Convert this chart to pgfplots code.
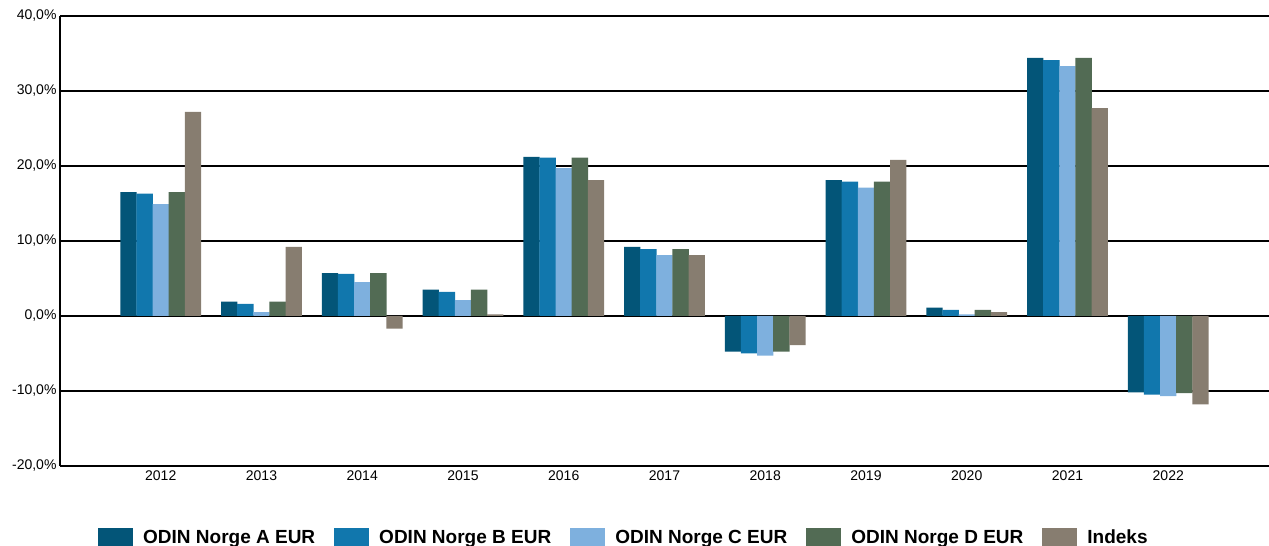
\documentclass[border=0pt]{standalone}
\usepackage{pgfplots}
\pgfplotsset{compat=1.18}
\usepackage{fontspec}
\setmainfont{Liberation Sans}
\definecolor{cA}{RGB}{3,85,120}
\definecolor{cB}{RGB}{17,119,173}
\definecolor{cC}{RGB}{126,176,222}
\definecolor{cD}{RGB}{82,107,84}
\definecolor{cI}{RGB}{135,125,112}
\begin{document}
\begin{tikzpicture}
\path[use as bounding box] (0,0) rectangle (1269pt,546pt);
\begin{axis}[
  at={(60pt,80pt)}, anchor=south west,
  scale only axis, width=1209pt, height=450pt,
  xmin=-1, xmax=11, ymin=-20, ymax=40,
  xtick={0,...,10},
  xticklabels={2012,2013,2014,2015,2016,2017,2018,2019,2020,2021,2022},
  ytick={-20,-10,0,10,20,30,40},
  yticklabels={{-20,0\%},{-10,0\%},{0,0\%},{10,0\%},{20,0\%},{30,0\%},{40,0\%}},
  major tick length=0pt,
  axis lines*=left,
  axis line style={-},
  x axis line style={draw=none},
  y axis line style={line width=1.3pt, black},
  ymajorgrids,
  grid style={line width=1.3pt, black},
  ticklabel style={font=\fontsize{14pt}{16pt}\selectfont},
  xticklabel style={yshift=-1pt},
  ybar, bar width=0.163,
  legend columns=-1,
  legend style={draw=none, fill=none, inner sep=0pt, at={(0.0314,-0.158)}, anchor=west,
    font=\fontsize{19pt}{22pt}\selectfont\bfseries,
    nodes={inner sep=0pt, anchor=base west},
    /tikz/every odd column/.append style={column sep=10pt},
    /tikz/every even column/.append style={column sep=19pt}},
  legend image code/.code={\fill[#1] (0pt,-3pt) rectangle (35pt,15pt);},
]
\addplot[fill=cA, draw=none, bar shift=-0.32] coordinates {(0,16.5)(1,1.9)(2,5.7)(3,3.5)(4,21.2)(5,9.2)(6,-4.75)(7,18.1)(8,1.1)(9,34.4)(10,-10.2)};
\addplot[fill=cB, draw=none, bar shift=-0.16] coordinates {(0,16.3)(1,1.6)(2,5.6)(3,3.2)(4,21.1)(5,8.9)(6,-5.0)(7,17.9)(8,0.8)(9,34.1)(10,-10.5)};
\addplot[fill=cC, draw=none, bar shift=0] coordinates {(0,14.9)(1,0.5)(2,4.5)(3,2.1)(4,19.7)(5,8.1)(6,-5.3)(7,17.1)(8,0.2)(9,33.3)(10,-10.7)};
\addplot[fill=cD, draw=none, bar shift=0.16] coordinates {(0,16.5)(1,1.9)(2,5.7)(3,3.5)(4,21.1)(5,8.9)(6,-4.75)(7,17.9)(8,0.8)(9,34.4)(10,-10.3)};
\addplot[fill=cI, draw=none, bar shift=0.32] coordinates {(0,27.2)(1,9.2)(2,-1.7)(3,0.2)(4,18.1)(5,8.1)(6,-3.9)(7,20.8)(8,0.5)(9,27.7)(10,-11.8)};
\legend{ODIN Norge A EUR, ODIN Norge B EUR, ODIN Norge C EUR, ODIN Norge D EUR, Indeks}
\end{axis}
\end{tikzpicture}
\end{document}
